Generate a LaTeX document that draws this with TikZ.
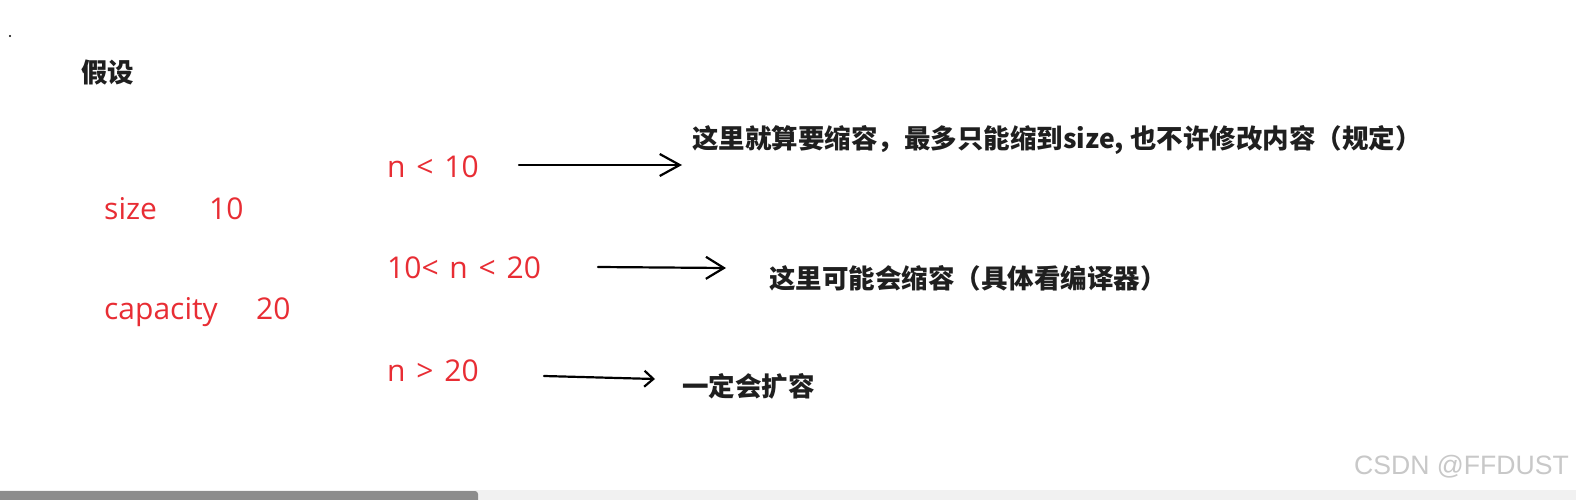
\documentclass[tikz,border=0pt]{standalone}
\usepackage{fontspec}
\setmainfont{Open Sans}
\newfontfamily\cjk{Noto Sans CJK SC}
\newfontfamily\wm{Liberation Sans}
\usetikzlibrary{arrows.meta}
\definecolor{redtxt}{RGB}{232,45,52}
\definecolor{wmgray}{RGB}{200,200,200}
\definecolor{barlight}{RGB}{241,241,241}
\definecolor{bardark}{RGB}{140,140,140}
\newcommand\wgap{\hspace{0.36em}}
\tikzset{
  redlabel/.style={anchor=base west, inner sep=0pt, text=redtxt, font=\fontsize{30}{34}\selectfont},
  cjklabel/.style={anchor=west, inner sep=0pt, text=black!88, font=\cjk\bfseries\fontsize{26.5}{30}\selectfont},
  handarrow/.style={line width=2.2pt, line cap=round, -{Straight Barb[length=#1, width=22pt, line width=2.2pt]}},
}
\begin{document}
\begin{tikzpicture}[x=1pt,y=-1pt]
\useasboundingbox (0,0) rectangle (1576,500);
\fill[white] (0,0) rectangle (1576,500);
% stray dot
\fill[black] (10,36) circle (1.2);
% title
\node[cjklabel] (title) at (81,72) {假设};
% left values
\node[redlabel] (size) at (104,219) {size};
\node[redlabel] (sizev) at (209,219) {10};
\node[redlabel] (cap) at (104,319) {capacity};
\node[redlabel] (capv) at (256,319) {20};
% cases
\node[redlabel] (c1) at (387,177) {n\wgap<\wgap10};
\node[redlabel] (c2) at (387,278) {10<\wgap n\wgap<\wgap20};
\node[redlabel] (c3) at (387,381) {n\wgap>\wgap20};
% results
\node[cjklabel] (r1) at (692,140) {这里就算要缩容，最多只能缩到size, 也不许修改内容（规定）};
\node[cjklabel] (r2) at (769,278) {这里可能会缩容（具体看编译器）};
\node[cjklabel] (r3) at (682,386) {一定会扩容};
% arrows
\coordinate (a1s) at (519,165);
\coordinate (a1e) at (682,165);
\coordinate (a2s) at (598,267);
\coordinate (a2e) at (726,268);
\coordinate (a3s) at (544,376);
\coordinate (a3e) at (655,379);
\draw[handarrow=20pt] (a1s) -- (a1e);
\draw[handarrow=18pt] (a2s) -- (a2e);
\draw[line width=2.2pt, line cap=round, -{Straight Barb[length=9pt, width=16pt, line width=2.2pt]}] (a3s) -- (a3e);
% watermark
\node[anchor=west, inner sep=0pt, text=wmgray, font=\wm\fontsize{26.6}{30}\selectfont] (wmk) at (1354,467) {CSDN @FFDUST};
% scrollbar
\fill[barlight] (0,490) rectangle (1576,500);
\fill[bardark, rounded corners=3pt] (-5,491) rectangle (478,505);
\end{tikzpicture}
\end{document}
